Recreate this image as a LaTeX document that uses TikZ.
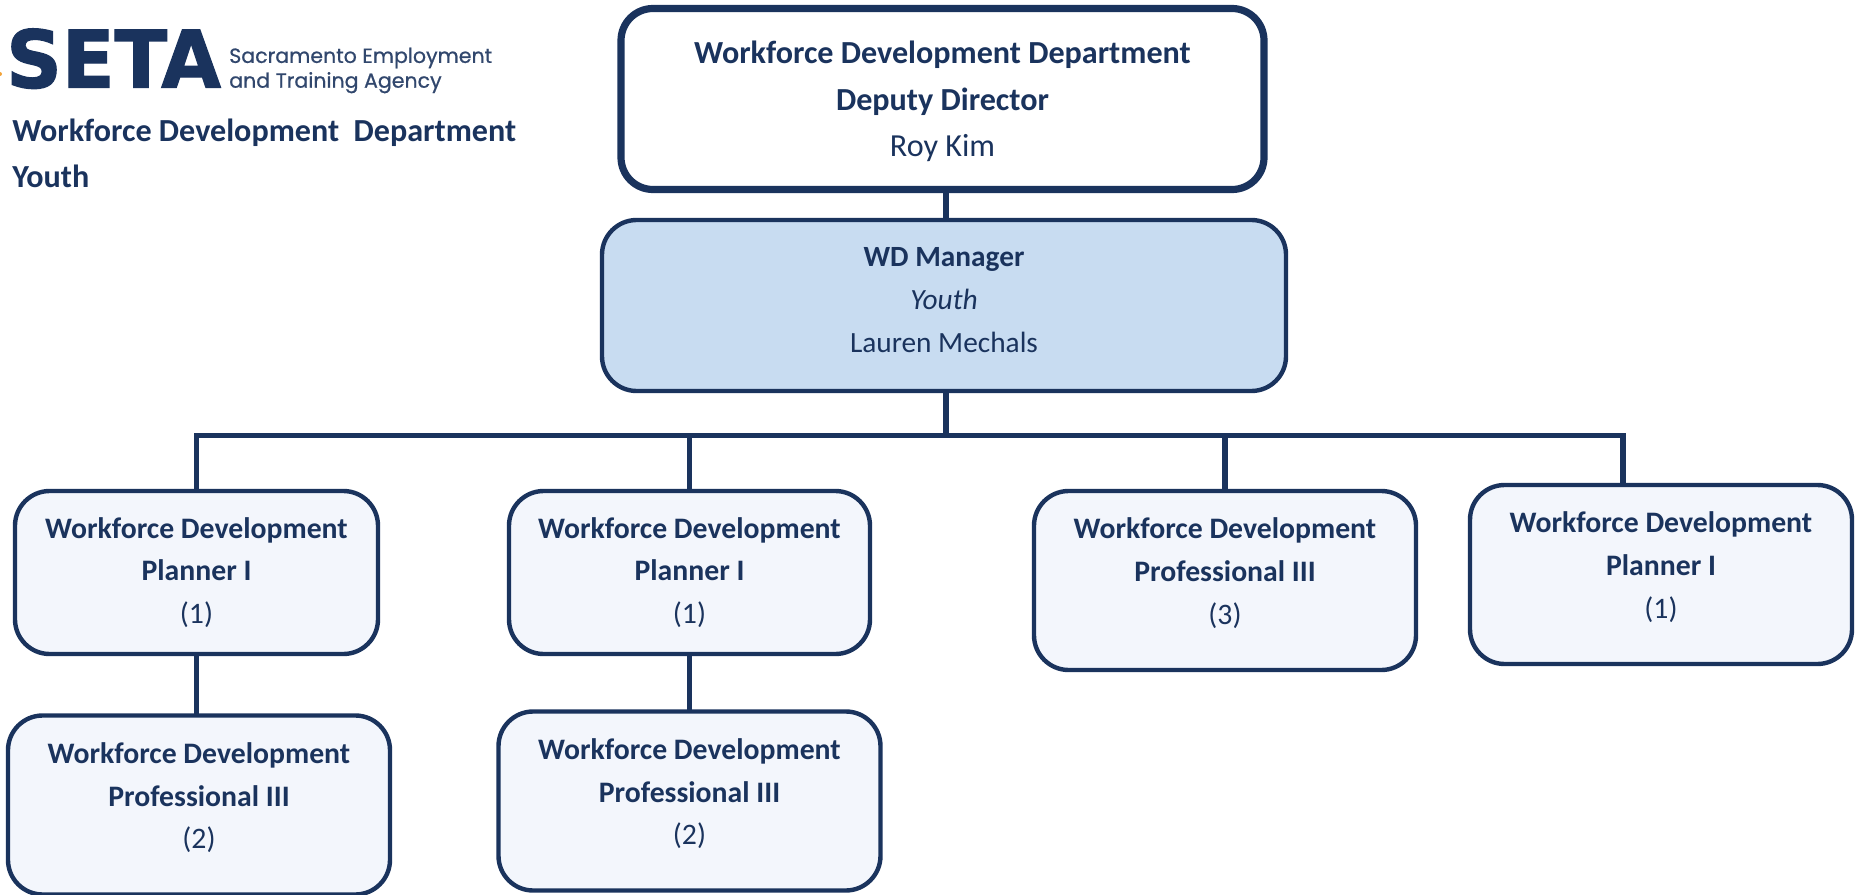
\documentclass[tikz,border=0pt]{standalone}
\usepackage{fontspec}
\usepackage{graphicx}
\setmainfont{Carlito}
\newfontfamily\logofont[BoldFeatures={FakeBold=1.6}]{DejaVu Sans}
\newfontfamily\agencyfont[FakeBold=0.7]{Poppins}
\usetikzlibrary{positioning}
\definecolor{setanavy}{HTML}{1A335D}
\definecolor{setaorange}{HTML}{F2A33A}
\definecolor{mgrblue}{HTML}{C8DCF1}
\definecolor{unitblue}{HTML}{F3F6FC}
\tikzstyle{head} = [rounded corners=24, draw=setanavy, line width=5.4pt, fill=white, text=setanavy, align=center, outer sep=0pt, inner sep=0pt, font=\fontsize{24.1}{35}\selectfont]
\tikzstyle{mgr} = [rounded corners=26, draw=setanavy, line width=3.3pt, fill=mgrblue, text=setanavy, align=center, outer sep=0pt, inner sep=0pt, font=\fontsize{22}{32.2}\selectfont]
\tikzstyle{unit} = [rounded corners=26, draw=setanavy, line width=3.3pt, fill=unitblue, text=setanavy, align=center, outer sep=0pt, inner sep=0pt, minimum width=382*0.75pt, minimum height=179*0.75pt, font=\fontsize{22.3}{32}\selectfont]
\tikzstyle{link} = [draw=setanavy, line width=3.8pt]
\tikzstyle{caption} = [text=setanavy, align=left, anchor=north west, inner sep=0pt, font=\fontsize{24.1}{34.5}\selectfont\bfseries]

\begin{document}
\begin{tikzpicture}[x=0.75pt, y=-0.75pt]
    \useasboundingbox (0,0) rectangle (1860,895);

    % logo and page title
    \fill[setaorange] (0,74) circle (2);
    \node[text=setanavy, anchor=south west, inner sep=0pt] (logo) at (6,89) {\resizebox{161pt}{44.25pt}{\logofont\bfseries SETA}};
    \node[text=setanavy!90, anchor=west, align=left, inner sep=0pt, font=\fontsize{15.4}{18.6}\selectfont\agencyfont] (agency) at (229,70.5) {Sacramento Employment\\and Training Agency};
    \node[caption] (title) at (12,119) {Workforce Development~ Department\\Youth};

    \node[head, minimum width=643*0.75pt, minimum height=181*0.75pt, text depth=0pt] (top) at (942.5,99) {\textbf{Workforce Development Department}\\\textbf{Deputy Director}\\Roy Kim};
    \node[mgr, minimum width=684*0.75pt, minimum height=171*0.75pt, text depth=8.5pt] (manager) at (944,305.5) {\textbf{WD Manager}\\\textit{Youth}\\Lauren Mechals};

    \node[unit, minimum width=363*0.75pt, minimum height=163*0.75pt] (plan1) at (196.5,572.5) {\textbf{Workforce Development}\\\textbf{Planner I}\\(1)};
    \node[unit, minimum width=361*0.75pt, minimum height=163*0.75pt] (plan2) at (689.5,572.5) {\textbf{Workforce Development}\\\textbf{Planner I}\\(1)};
    \node[unit, text depth=14pt] (prof3) at (1225,580.5) {\textbf{Workforce Development}\\\textbf{Professional III}\\(3)};
    \node[unit, text depth=14pt] (plan4) at (1661,574.5) {\textbf{Workforce Development}\\\textbf{Planner I}\\(1)};
    \node[unit, text depth=14pt] (prof1) at (199,805) {\textbf{Workforce Development}\\\textbf{Professional III}\\(2)};
    \node[unit, text depth=14pt] (prof2) at (689.5,801) {\textbf{Workforce Development}\\\textbf{Professional III}\\(2)};

    \coordinate (busM) at (946,435.5);
    \coordinate (busR) at (1623,435.5);

    \draw[link] (busM |- top.south) -- (busM |- manager.north);
    \draw[link] (busM |- manager.south) -- (busM);
    \draw[link] (plan1.north) |- (busR) -- (busR |- plan4.north);
    \draw[link] (plan2.north) -- (plan2.north |- busM);
    \draw[link] (prof3.north) -- (prof3.north |- busM);
    \draw[link] (plan1.south) -- (plan1.south |- prof1.north);
    \draw[link] (plan2.south) -- (plan2.south |- prof2.north);
\end{tikzpicture}
\end{document}
